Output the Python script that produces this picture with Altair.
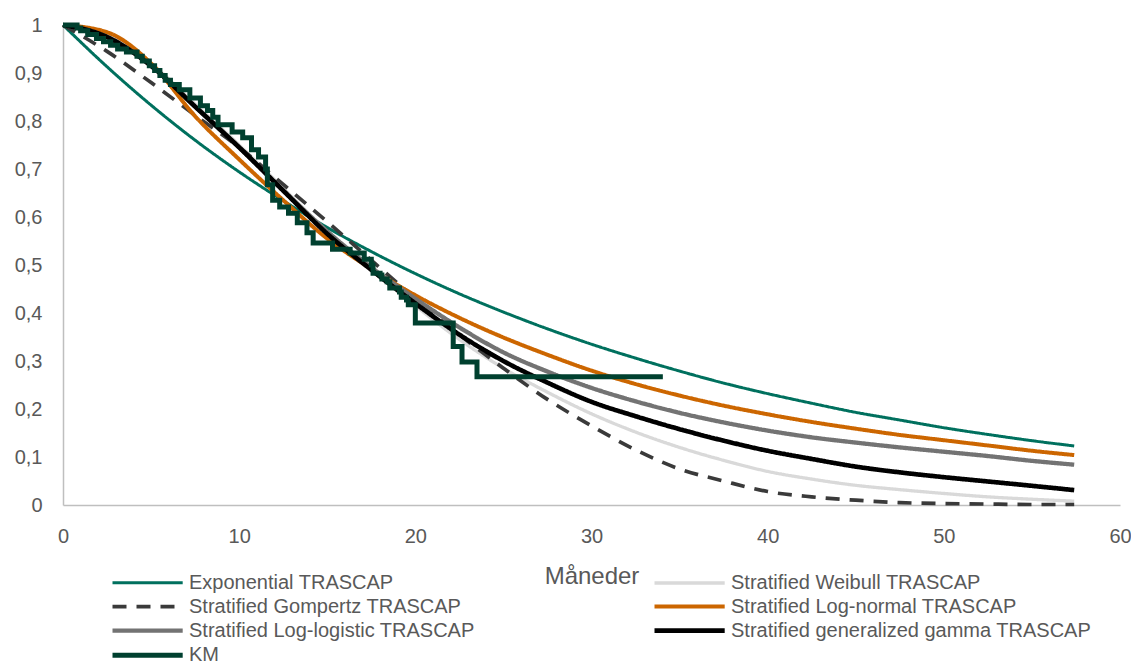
import pandas as pd
import altair as alt

# Model curves at fixed months
months = [0, 2.5, 5, 7.5, 10, 12.5, 15, 17.5, 20, 22.5, 25, 27.5, 30, 32.5,
          35, 37.5, 40, 42.5, 45, 47.5, 50, 52.5, 55, 57.4]

exponential = [1.0, 0.913, 0.833, 0.760, 0.694, 0.634, 0.578, 0.528, 0.482, 0.440,
               0.402, 0.367, 0.335, 0.306, 0.279, 0.254, 0.232, 0.212, 0.193, 0.177,
               0.161, 0.147, 0.134, 0.123]
weibull = [1.0, 0.980, 0.920, 0.835, 0.750, 0.660, 0.570, 0.490, 0.415, 0.345,
           0.285, 0.235, 0.190, 0.152, 0.120, 0.093, 0.070, 0.054, 0.041, 0.032,
           0.024, 0.017, 0.012, 0.008]
gompertz = [1.0, 0.945, 0.880, 0.812, 0.745, 0.668, 0.590, 0.510, 0.430, 0.355,
            0.285, 0.220, 0.165, 0.115, 0.075, 0.050, 0.028, 0.017, 0.010, 0.005,
            0.003, 0.002, 0.001, 0.001]
lognormal = [1.0, 0.985, 0.920, 0.810, 0.720, 0.635, 0.555, 0.492, 0.437, 0.390,
             0.349, 0.313, 0.280, 0.252, 0.228, 0.207, 0.189, 0.173, 0.159, 0.146,
             0.135, 0.124, 0.113, 0.104]
loglogistic = [1.0, 0.975, 0.915, 0.830, 0.745, 0.655, 0.570, 0.495, 0.430, 0.370,
               0.318, 0.278, 0.244, 0.216, 0.192, 0.172, 0.155, 0.141, 0.130, 0.120,
               0.111, 0.102, 0.092, 0.084]
gengamma = [1.0, 0.975, 0.915, 0.830, 0.745, 0.655, 0.565, 0.490, 0.420, 0.355,
            0.300, 0.255, 0.215, 0.185, 0.158, 0.134, 0.113, 0.096, 0.080, 0.068,
            0.058, 0.049, 0.040, 0.031]

# Kaplan-Meier: survival from each time on (step-after), last point ends the line
km_time = [0, 0.8, 1.0, 1.4, 1.9, 2.3, 2.7, 3.1, 3.6, 4.2, 4.5, 4.9, 5.2, 5.5, 5.8,
           6.1, 6.6, 7.2, 7.8, 8.2, 8.5, 8.8, 9.6, 10.2, 10.7, 11.1, 11.5, 11.6,
           11.9, 12.3, 12.8, 13.3, 13.85, 14.2, 15.3, 16.3, 17.1, 17.5, 17.6, 18.0,
           18.1, 18.4, 18.55, 19.1, 19.2, 19.5, 19.6, 20.0, 22.15, 22.65, 23.5, 34.05]
km_surv = [1.0, 0.994, 0.988, 0.980, 0.972, 0.965, 0.958, 0.950, 0.944, 0.935, 0.925,
           0.915, 0.905, 0.895, 0.885, 0.876, 0.865, 0.848, 0.832, 0.822, 0.808,
           0.792, 0.777, 0.765, 0.740, 0.725, 0.700, 0.667, 0.635, 0.621,
           0.608, 0.588, 0.567, 0.546, 0.533, 0.525, 0.512, 0.500, 0.483, 0.479,
           0.471, 0.465, 0.452, 0.444, 0.433, 0.427, 0.417, 0.379, 0.330, 0.298,
           0.267, 0.267]

series = ["Exponential TRASCAP", "Stratified Weibull TRASCAP",
          "Stratified Gompertz TRASCAP", "Stratified Log-normal TRASCAP",
          "Stratified Log-logistic TRASCAP", "Stratified generalized gamma TRASCAP",
          "KM"]
colors = ["#00705E", "#D9D9D9", "#3A3A3A", "#CC6600", "#737373", "#000000", "#00402F"]
dashes = [[1, 0], [1, 0], [14, 10], [1, 0], [1, 0], [1, 0], [1, 0]]
widths = [3, 5, 3.5, 3, 3.5, 3.5, 3.5]

curves = [exponential, weibull, gompertz, lognormal, loglogistic, gengamma]
rows = []
for name, values in zip(series[:6], curves):
    for t, s in zip(months, values):
        rows.append({"t": t, "s": s, "series": name})
models = pd.DataFrame(rows)
km = pd.DataFrame({"t": km_time, "s": km_surv, "series": "KM"})

FONT = "Liberation Sans"
GREY = "#595959"

legend = alt.Legend(title=None, orient="none", legendX=47, legendY=547,
                    direction="horizontal", columns=2, columnPadding=170, rowPadding=2.6,
                    symbolType="M-1,0H6.8", symbolSize=324,
                    labelFont=FONT, labelFontSize=20, labelColor=GREY,
                    labelOffset=56, labelLimit=400)

color = alt.Color("series:N", scale=alt.Scale(domain=series, range=colors), legend=legend)
dash = alt.StrokeDash("series:N", scale=alt.Scale(domain=series, range=dashes), legend=legend)
width = alt.StrokeWidth("series:N", scale=alt.Scale(domain=series, range=widths), legend=legend)

x = alt.X("t:Q", title="Måneder",
          scale=alt.Scale(domain=[0, 60], nice=False),
          axis=alt.Axis(values=[0, 10, 20, 30, 40, 50, 60], grid=False, ticks=False,
                        domainColor="#BFBFBF", domainWidth=1.5, labelFlush=False,
                        labelFont=FONT, labelFontSize=20, labelColor=GREY,
                        labelPadding=21,
                        titleFont=FONT, titleFontSize=24, titleFontWeight="normal",
                        titleColor=GREY, titlePadding=18))
y = alt.Y("s:Q", title=None,
          scale=alt.Scale(domain=[0, 1], nice=False),
          axis=alt.Axis(values=[0, 0.1, 0.2, 0.3, 0.4, 0.5, 0.6, 0.7, 0.8, 0.9, 1],
                        grid=False, ticks=False, labelFlush=False,
                        domainColor="#BFBFBF", domainWidth=1.5,
                        labelExpr="replace(format(datum.value, '.1~f'), '.', ',')",
                        labelFont=FONT, labelFontSize=20, labelColor=GREY,
                        labelPadding=21))

model_lines = alt.Chart(models).mark_line(interpolate="monotone").encode(
    x=x, y=y, color=color, strokeDash=dash, strokeWidth=width,
    detail="series:N", order="t:Q"
)
km_line = alt.Chart(km).mark_line(interpolate="step-after").encode(
    x=x, y=y, color=color, strokeDash=dash, strokeWidth=width
)

chart = alt.layer(model_lines, km_line).properties(
    width=1057,
    height=480,
    autosize=alt.AutoSizeParams(type="none"),
    padding={"left": 55, "top": 17, "right": 11, "bottom": 161}
).configure_view(stroke=None)

chart.save("out.html", embed_options={"renderer": "svg", "actions": False})
